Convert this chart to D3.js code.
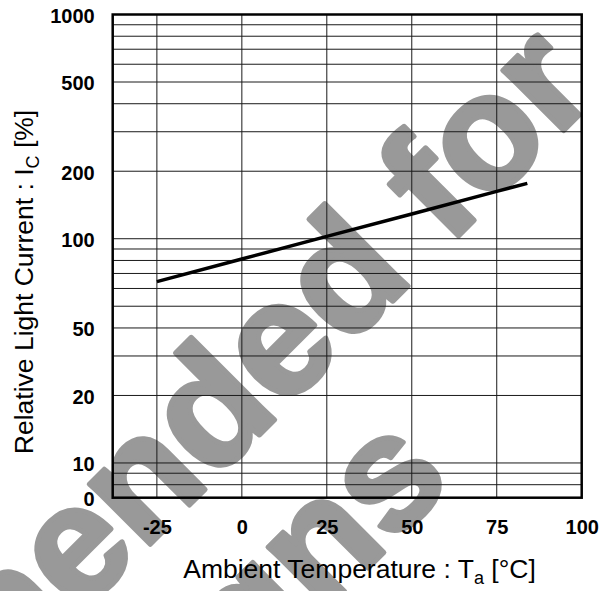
<!DOCTYPE html>
<html lang="en">
<head>
<meta charset="UTF-8">
<title>Relative Light Current vs Ambient Temperature</title>
<script src="https://d3js.org/d3.v7.min.js"></script>
<style>
  body { margin: 0; background: #fff; font-family: Arial, "Liberation Sans", sans-serif; }
  .tick-label { font-size: 20px; font-weight: bold; fill: #000; }
  .axis-title { font-size: 26.5px; fill: #000; }
</style>
</head>
<body>
<div id="chart"></div>
<script>
// curve
var temps = [-25, 0, 25, 50, 75, 84];
var current = [64.4, 81.2, 102.4, 129, 162.6, 176.6];

// axes
var xTicks = [-25, 0, 25, 50, 75, 100];
var xGrid = [-25, 0, 25, 50, 75];
var yTicks = [1000, 500, 200, 100, 40, 20, 10, 7];
var yTickLabels = ["1000", "500", "200", "100", "50", "20", "10", "0"];
var yGrid = [8, 9, 10, 20, 30, 40, 50, 60, 70, 80, 90, 100, 200, 300, 400, 500, 600, 700, 800, 900];

var width = 612, height = 591;
var plotL = 112.7, plotR = 581.7, plotT = 14.5, plotB = 497.7;

var svg = d3.select("#chart").append("svg")
    .attr("width", width)
    .attr("height", height);

var x = d3.scaleLinear().domain([-38, 100]).range([plotL, plotR]);
var y = d3.scaleLog().domain([7, 1000]).range([plotB, plotT]);

// watermark, underneath everything
var wm = svg.append("g")
    .attr("transform", "rotate(-45)")
    .style("font-family", "Arial, 'Liberation Sans', sans-serif")
    .style("font-weight", "bold")
    .style("font-size", "162px")
    .style("fill", "#999")
    .style("stroke", "#999")
    .style("stroke-width", 5)
    .style("stroke-linejoin", "round");
wm.append("text").attr("x", 358).attr("y", 491).attr("text-anchor", "end").text("Not recommended for");
wm.append("text").attr("x", -19).attr("y", 662).attr("text-anchor", "end").text("new designs");

// grid
svg.append("g")
    .selectAll("line")
    .data(yGrid)
    .enter().append("line")
    .attr("x1", plotL).attr("x2", plotR)
    .attr("y1", function(d) { return y(d); })
    .attr("y2", function(d) { return y(d); })
    .attr("stroke", "#1a1a1a")
    .attr("stroke-width", 1);

svg.append("g")
    .selectAll("line")
    .data(xGrid)
    .enter().append("line")
    .attr("y1", plotT).attr("y2", plotB)
    .attr("x1", function(d) { return x(d); })
    .attr("x2", function(d) { return x(d); })
    .attr("stroke", "#1a1a1a")
    .attr("stroke-width", 1);

// frame
svg.append("rect")
    .attr("x", plotL).attr("y", plotT)
    .attr("width", plotR - plotL).attr("height", plotB - plotT)
    .attr("fill", "none")
    .attr("stroke", "#000")
    .attr("stroke-width", 2.5);

// curve
var pts = temps.map(function(t, i) { return [t, current[i]]; });
svg.append("path")
    .datum(pts)
    .attr("fill", "none")
    .attr("stroke", "#000")
    .attr("stroke-width", 3.5)
    .attr("d", d3.line()
        .x(function(d) { return x(d[0]); })
        .y(function(d) { return y(d[1]); }));

// y tick labels
var yAxis = d3.axisLeft(y)
    .tickValues(yTicks)
    .tickSize(0)
    .tickPadding(18)
    .tickFormat(function(d, i) { return yTickLabels[i]; });
var gy = svg.append("g")
    .attr("transform", "translate(" + plotL + ",1.5)")
    .call(yAxis);
gy.select(".domain").remove();
gy.selectAll("text").attr("class", "tick-label").attr("font-size", null).attr("font-family", null);

// x tick labels
var xAxis = d3.axisBottom(x)
    .tickValues(xTicks)
    .tickSize(0)
    .tickPadding(22)
    .tickFormat(function(d) { return String(d); });
var gx = svg.append("g")
    .attr("transform", "translate(0," + plotB + ")")
    .call(xAxis);
gx.select(".domain").remove();
gx.selectAll("text").attr("class", "tick-label").attr("font-size", null).attr("font-family", null);

// axis titles
var yt = svg.append("text")
    .attr("class", "axis-title")
    .attr("text-anchor", "middle")
    .attr("transform", "translate(33,282) rotate(-90)");
yt.append("tspan").text("Relative Light Current : I");
yt.append("tspan").attr("dy", 6).style("font-size", "18px").text("C");
yt.append("tspan").attr("dy", -6).text(" [%]");

var xt = svg.append("text")
    .attr("class", "axis-title")
    .attr("text-anchor", "middle")
    .attr("x", 359.5)
    .attr("y", 578);
xt.append("tspan").text("Ambient Temperature : T");
xt.append("tspan").attr("dy", 6).style("font-size", "18px").text("a");
xt.append("tspan").attr("dy", -6).text(" [°C]");
</script>
</body>
</html>
